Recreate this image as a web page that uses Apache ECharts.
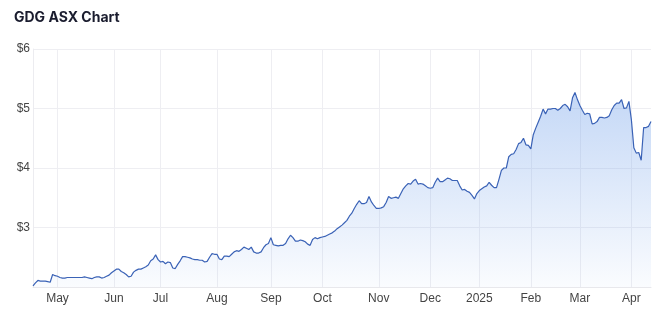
<!DOCTYPE html>
<html>
<head>
<meta charset="utf-8">
<style>
  html, body { margin: 0; padding: 0; background: #ffffff; }
  #chart { width: 668px; height: 321px; }
</style>
<script src="https://cdn.jsdelivr.net/npm/echarts@6/dist/echarts.min.js"></script>
</head>
<body>
<div id="chart"></div>
<script>
// Trading calendar (ASX business days) used for the category axis
const startDate = '2024-04-16';
const endDate = '2025-04-11';
const holidays = ['2024-04-25', '2024-06-10', '2024-12-25', '2024-12-26', '2025-01-01', '2025-01-27'];

// Month tick labels (placed on the first trading day of each month)
const tickMonths = ['2024-05', '2024-06', '2024-07', '2024-08', '2024-09', '2024-10', '2024-11', '2024-12', '2025-01', '2025-02', '2025-03', '2025-04'];
const tickLabels = ['May', 'Jun', 'Jul', 'Aug', 'Sep', 'Oct', 'Nov', 'Dec', '2025', 'Feb', 'Mar', 'Apr'];

// Y-axis ticks
const yTicks = [2, 3, 4, 5, 6];

// Closing price (AUD), one per trading day
const prices = [
  2.02, 2.07, 2.11, 2.10, 2.10, 2.10, 2.09, 2.08, 2.21, 2.19,
  2.18, 2.16, 2.15, 2.15, 2.16, 2.16, 2.16, 2.16, 2.16, 2.16,
  2.16, 2.17, 2.16, 2.15, 2.14, 2.16, 2.17, 2.17, 2.15, 2.16,
  2.18, 2.20, 2.24, 2.27, 2.30, 2.30, 2.26, 2.24, 2.21, 2.17,
  2.18, 2.25, 2.28, 2.30, 2.30, 2.32, 2.34, 2.37, 2.44, 2.47,
  2.54, 2.46, 2.42, 2.43, 2.39, 2.42, 2.41, 2.32, 2.31, 2.38,
  2.44, 2.51, 2.51, 2.50, 2.49, 2.47, 2.46, 2.46, 2.45, 2.45,
  2.42, 2.43, 2.50, 2.56, 2.55, 2.55, 2.47, 2.46, 2.52, 2.52,
  2.51, 2.55, 2.59, 2.61, 2.60, 2.63, 2.67, 2.65, 2.63, 2.67,
  2.59, 2.57, 2.57, 2.59, 2.66, 2.71, 2.73, 2.83, 2.71, 2.70,
  2.69, 2.70, 2.70, 2.73, 2.81, 2.87, 2.83, 2.77, 2.77, 2.79,
  2.78, 2.76, 2.72, 2.70, 2.80, 2.83, 2.81, 2.83, 2.84, 2.85,
  2.87, 2.89, 2.91, 2.94, 2.98, 3.01, 3.04, 3.08, 3.12, 3.19,
  3.24, 3.32, 3.39, 3.45, 3.40, 3.40, 3.42, 3.52, 3.43, 3.37,
  3.32, 3.32, 3.33, 3.35, 3.42, 3.52, 3.49, 3.50, 3.51, 3.49,
  3.57, 3.65, 3.70, 3.74, 3.73, 3.78, 3.81, 3.73, 3.74, 3.73,
  3.70, 3.67, 3.66, 3.67, 3.76, 3.83, 3.77, 3.77, 3.80, 3.83,
  3.82, 3.79, 3.79, 3.79, 3.70, 3.63, 3.64, 3.61, 3.59, 3.54,
  3.48, 3.57, 3.62, 3.65, 3.68, 3.70, 3.76, 3.71, 3.67, 3.67,
  3.81, 3.96, 4.00, 4.00, 4.19, 4.23, 4.24, 4.31, 4.41, 4.43,
  4.50, 4.39, 4.38, 4.32, 4.56, 4.67, 4.77, 4.87, 4.99, 4.91,
  4.99, 4.99, 5.00, 5.00, 4.97, 5.00, 5.05, 5.07, 5.03, 4.96,
  5.18, 5.27, 5.15, 5.05, 4.97, 4.90, 4.92, 4.91, 4.74, 4.75,
  4.78, 4.85, 4.85, 4.84, 4.85, 4.88, 4.98, 5.05, 5.09, 5.09,
  5.15, 5.00, 5.01, 5.12, 4.81, 4.34, 4.25, 4.26, 4.13, 4.68,
  4.68, 4.70, 4.78
];

// ---- build trading-day categories ----
function pad(n) { return n < 10 ? '0' + n : '' + n; }
function fmt(d) { return d.getUTCFullYear() + '-' + pad(d.getUTCMonth() + 1) + '-' + pad(d.getUTCDate()); }
const dates = [];
(function () {
  let d = new Date(startDate + 'T00:00:00Z');
  const end = new Date(endDate + 'T00:00:00Z');
  while (d <= end) {
    const wd = d.getUTCDay();
    const s = fmt(d);
    if (wd !== 0 && wd !== 6 && holidays.indexOf(s) < 0) dates.push(s);
    d = new Date(d.getTime() + 86400000);
  }
})();

// index -> label for first trading day of each tick month
const labelAt = {};
tickMonths.forEach(function (m, k) {
  const idx = dates.findIndex(function (s) { return s.slice(0, 7) === m; });
  if (idx >= 0) labelAt[idx] = tickLabels[k];
});
function isTick(index) { return labelAt.hasOwnProperty(index); }

const chart = echarts.init(document.getElementById('chart'), null, { renderer: 'canvas' });
chart.setOption({
  animation: false,
  backgroundColor: '#ffffff',
  title: {
    text: 'GDG ASX Chart',
    left: 9,
    top: 6,
    textStyle: { fontFamily: 'Inter, "Liberation Sans", Arial, sans-serif', fontSize: 14, fontWeight: 700, color: '#1a1c2e' }
  },
  grid: { left: 33, right: 17, top: 49, bottom: 34, containLabel: false },
  xAxis: {
    type: 'category',
    data: dates,
    boundaryGap: false,
    axisLine: { show: true, lineStyle: { color: '#e8e8ec', width: 1 } },
    axisTick: { show: false },
    axisLabel: {
      interval: function (index) { return isTick(index); },
      formatter: function (value, index) { return labelAt[index] || ''; },
      color: '#444',
      fontFamily: '"Liberation Sans", Arial, sans-serif',
      fontSize: 12,
      margin: 6
    },
    splitLine: {
      show: true,
      interval: function (index) { return isTick(index); },
      lineStyle: { color: '#eeeef2', width: 1 }
    }
  },
  yAxis: {
    type: 'value',
    min: yTicks[0],
    max: yTicks[yTicks.length - 1],
    interval: 1,
    axisLine: { show: true, lineStyle: { color: '#ececf0', width: 1 } },
    axisTick: { show: false },
    axisLabel: {
      showMinLabel: false,
      formatter: function (v) { return '$' + v; },
      color: '#444',
      fontFamily: '"Liberation Sans", Arial, sans-serif',
      fontSize: 12,
      margin: 3
    },
    splitLine: { show: true, lineStyle: { color: '#eeeef2', width: 1 } }
  },
  series: [{
    type: 'line',
    data: prices,
    showSymbol: false,
    smooth: false,
    lineStyle: { color: '#3a62b6', width: 1.2 },
    itemStyle: { color: '#3a62b6' },
    areaStyle: {
      color: new echarts.graphic.LinearGradient(0, 0, 0, 1, [
        { offset: 0, color: 'rgba(120,165,235,0.62)' },
        { offset: 1, color: 'rgba(120,165,235,0.05)' }
      ])
    }
  }]
});
</script>
</body>
</html>
